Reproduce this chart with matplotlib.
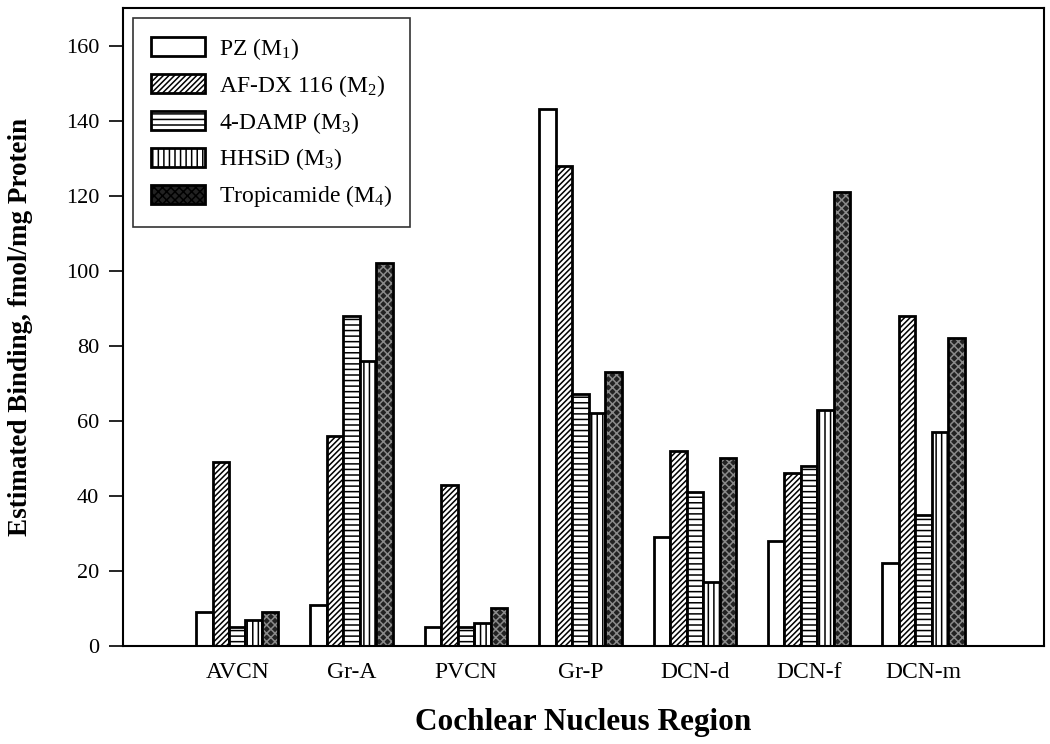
import numpy as np
import matplotlib
matplotlib.use("Agg")
import matplotlib.pyplot as plt
from matplotlib.patches import Patch

plt.rcParams['font.family'] = ['Liberation Serif', 'DejaVu Serif']
plt.rcParams['mathtext.fontset'] = 'custom'
plt.rcParams['mathtext.rm'] = 'Liberation Serif'
plt.rcParams['mathtext.it'] = 'Liberation Serif:italic'
plt.rcParams['hatch.linewidth'] = 1.1

# data
regions = ["AVCN", "Gr-A", "PVCN", "Gr-P", "DCN-d", "DCN-f", "DCN-m"]
pz = [9, 11, 5, 143, 29, 28, 22]
afdx = [49, 56, 43, 128, 52, 46, 88]
damp = [5, 88, 5, 67, 41, 48, 35]
hhsid = [7, 76, 6, 62, 17, 63, 57]
tropic = [9, 102, 10, 73, 50, 121, 82]
labels = ["PZ (M$_1$)", "AF-DX 116 (M$_2$)", "4-DAMP (M$_3$)",
          "HHSiD (M$_3$)", "Tropicamide (M$_4$)"]

series = [pz, afdx, damp, hhsid, tropic]
# face, hatch, hatch colour
styles = [("white", "", "black"),
          ("white", "//////", "black"),
          ("white", "---", "black"),
          ("white", "|||", "black"),
          ("#222222", "xxxx", "#8a8a8a")]

fig, ax = plt.subplots(figsize=(10.5, 7.44), dpi=100)
fig.subplots_adjust(left=0.117, right=0.994, top=0.989, bottom=0.132)

x = np.arange(1, len(regions) + 1)
w = 0.144
handles = []
for i, (vals, (fc, h, hc)) in enumerate(zip(series, styles)):
    pos = x + (i - 2) * w
    # hatch layer, then black outline on top
    ax.bar(pos, vals, w, facecolor=fc, edgecolor=hc, hatch=h, linewidth=0)
    ax.bar(pos, vals, w, facecolor="none", edgecolor="black", linewidth=2)
    handles.append(Patch(facecolor=fc, edgecolor="black", hatch=h, linewidth=2))

ax.set_xlim(0, 8.05)
ax.set_ylim(0, 170)
ax.set_yticks(np.arange(0, 161, 20))
ax.set_xticks(x)
ax.set_xticklabels(regions)
ax.tick_params(axis="x", length=0, labelsize=17, pad=12)
ax.tick_params(axis="y", length=10, width=1.2, labelsize=16, pad=7, direction="out")
for s in ax.spines.values():
    s.set_linewidth(1.5)

ax.set_ylabel("Estimated Binding, fmol/mg Protein", fontsize=19.5, fontweight="bold", labelpad=24)
ax.set_xlabel("Cochlear Nucleus Region", fontsize=22.5, fontweight="bold", labelpad=18)

leg = ax.legend(handles, labels, loc="upper left", fontsize=17, frameon=True,
                fancybox=False, edgecolor="black", handlelength=2.3, handleheight=0.85,
                borderpad=0.75, labelspacing=0.46, handletextpad=0.6, borderaxespad=0,
                bbox_to_anchor=(0.011, 0.984))
leg.get_frame().set_linewidth(1.2)

fig.savefig("out.png", dpi=100)
